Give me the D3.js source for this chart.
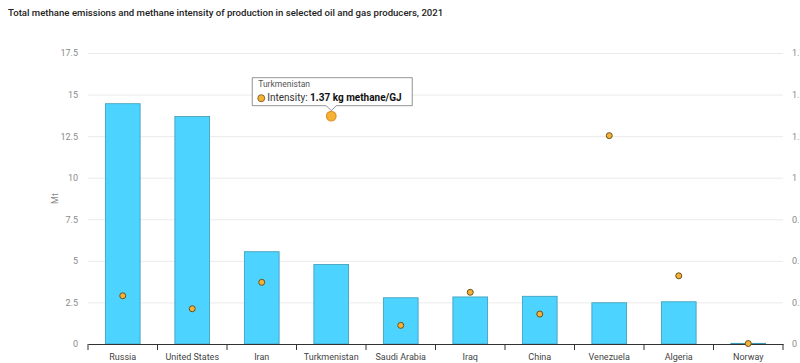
<!DOCTYPE html>
<html>
<head>
<meta charset="utf-8">
<script src="https://cdn.jsdelivr.net/npm/d3@7"></script>
<style>
  body { margin: 0; background: #fff; font-family: Roboto, "Open Sans", sans-serif; }
  svg { display: block; }
</style>
</head>
<body>
<div id="chart"></div>
<script>
const countries = ["Russia", "United States", "Iran", "Turkmenistan", "Saudi Arabia", "Iraq", "China", "Venezuela", "Algeria", "Norway"]
const emissions = [14.45, 13.68, 5.55, 4.78, 2.78, 2.83, 2.87, 2.48, 2.54, 0.04]
const intensity = [0.29, 0.212, 0.371, 1.37, 0.112, 0.311, 0.18, 1.253, 0.41, 0.003]
const leftTicks = [0, 2.5, 5, 7.5, 10, 12.5, 15, 17.5]
const rightTicks = [0, 0.25, 0.5, 0.75, 1, 1.25, 1.5, 1.75]
const hovered = "Turkmenistan"

const width = 800, height = 363
const margin = {top: 53, right: 17, bottom: 19, left: 88}
const font = "Roboto, sans-serif"

const svg = d3.select("#chart")
    .append("svg")
    .attr("width", width)
    .attr("height", height)

svg.append("text")
    .attr("x", 8)
    .attr("y", 16)
    .attr("font-size", "9.6px")
    .attr("font-weight", 500)
    .attr("fill", "#222")
    .text("Total methane emissions and methane intensity of production in selected oil and gas producers, 2021")

const x = d3.scaleBand()
    .domain(countries)
    .range([margin.left, width - margin.right])
    .padding(0)

const y = d3.scaleLinear()
    .domain([0, 17.5])
    .range([height - margin.bottom, margin.top])

const y2 = d3.scaleLinear()
    .domain([0, 1.75])
    .range([height - margin.bottom, margin.top])

// grid + left axis
const yAxis = svg.append("g")
    .attr("transform", `translate(${margin.left}, 0)`)
    .call(d3.axisLeft(y).tickValues(leftTicks).tickSize(-(width - margin.left - margin.right)).tickPadding(10).tickFormat(d3.format("")))
yAxis.select(".domain").remove()
yAxis.selectAll("line").attr("stroke", "#ebebeb")
yAxis.selectAll("text").attr("fill", "#8a8a8a").attr("font-size", "9px").attr("font-family", font)

const y2Axis = svg.append("g")
    .attr("transform", `translate(${width - margin.right}, 0)`)
    .call(d3.axisRight(y2).tickValues(rightTicks).tickSize(0).tickPadding(9).tickFormat(d3.format("")))
y2Axis.select(".domain").remove()
y2Axis.selectAll("text").attr("fill", "#8a8a8a").attr("font-size", "9px").attr("font-family", font)

svg.append("text")
    .attr("transform", `translate(58, ${(y(0) + y(17.5)) / 2}) rotate(-90)`)
    .attr("text-anchor", "middle")
    .attr("font-size", "9px")
    .attr("fill", "#8a8a8a")
    .text("Mt")

// bars
const barW = x.bandwidth() * 0.5
svg.selectAll("rect.bar")
    .data(countries)
    .enter()
    .append("rect")
        .classed("bar", true)
        .attr("x", d => x(d) + (x.bandwidth() - barW) / 2)
        .attr("y", (d, i) => y(emissions[i]))
        .attr("width", barW)
        .attr("height", (d, i) => y(0) - y(emissions[i]))
        .attr("fill", "#4dd3ff")
        .attr("stroke", "#3d9bb5")
        .attr("stroke-width", 0.8)

// bottom axis
const xAxis = svg.append("g")
    .attr("transform", `translate(0, ${y(0)})`)
    .call(d3.axisBottom(x).tickSize(0).tickPadding(10))
xAxis.select(".domain").attr("stroke", "#333")
xAxis.selectAll("text").attr("fill", "#444").attr("font-size", "9px").attr("font-family", font)
const bounds = countries.map(c => x(c)).concat([x.range()[1]])
xAxis.selectAll("line.sep")
    .data(bounds)
    .enter()
    .append("line")
        .classed("sep", true)
        .attr("x1", d => d).attr("x2", d => d)
        .attr("y1", 0).attr("y2", 6)
        .attr("stroke", "#333")

// intensity dots
svg.selectAll("circle.dot")
    .data(countries)
    .enter()
    .append("circle")
        .classed("dot", true)
        .attr("cx", d => x(d) + x.bandwidth() / 2)
        .attr("cy", (d, i) => y2(intensity[i]))
        .attr("r", d => d === hovered ? 4.8 : 3)
        .attr("fill", "#f5b335")
        .attr("stroke", d => d === hovered ? "#e0922a" : "#6b5020")
        .attr("stroke-width", d => d === hovered ? 1.2 : 1)

// tooltip
const hi = countries.indexOf(hovered)
const tx = x(hovered) + x.bandwidth() / 2
const ty = y2(intensity[hi])
const tip = svg.append("g").attr("transform", `translate(${tx}, ${ty - 10})`)
const tw = 160, th = 28, tl = -79
tip.append("path")
    .attr("d", `M${tl},${-th - 0.5} h${tw} v${th} H5 l-5,5 l-5,-5 H${tl} Z`)
    .attr("fill", "#fff")
    .attr("stroke", "#777")
    .attr("stroke-width", 0.8)
tip.append("text")
    .attr("x", tl + 6)
    .attr("y", -th + 9)
    .attr("font-size", "8.5px")
    .attr("fill", "#555")
    .text(hovered)
tip.append("circle")
    .attr("cx", tl + 9)
    .attr("cy", -8)
    .attr("r", 3.5)
    .attr("fill", "#f5b335")
    .attr("stroke", "#6b5020")
    .attr("stroke-width", 0.8)
const line2 = tip.append("text")
    .attr("x", tl + 15)
    .attr("y", -5)
    .attr("font-size", "10px")
    .attr("fill", "#333")
line2.append("tspan").text("Intensity: ")
line2.append("tspan").attr("font-weight", "bold").attr("fill", "#111").text(`${intensity[hi]} kg methane/GJ`)
</script>
</body>
</html>
